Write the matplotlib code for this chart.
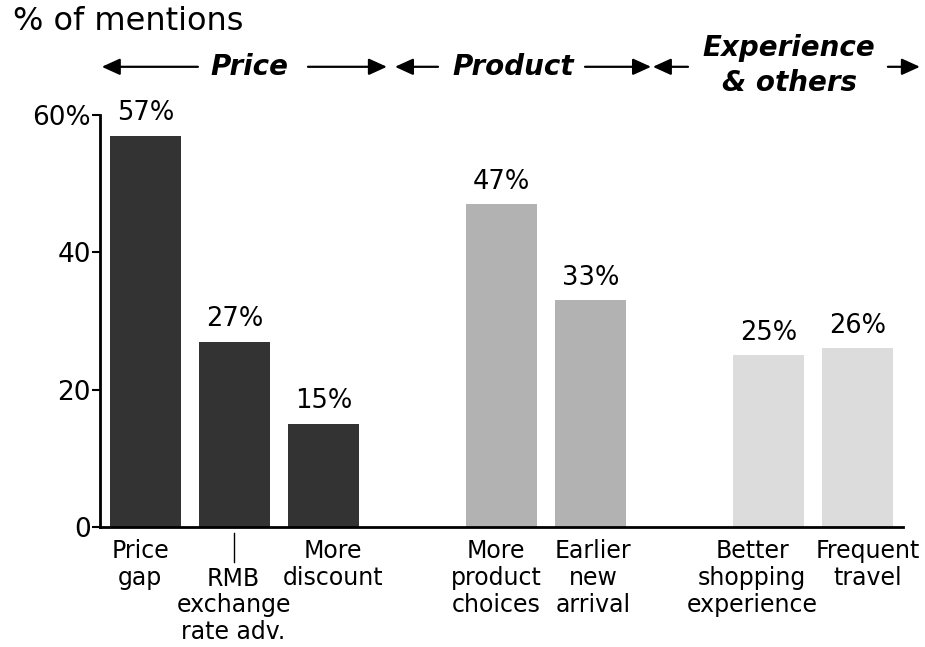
import matplotlib
matplotlib.use("Agg")
import matplotlib.pyplot as plt
from matplotlib.lines import Line2D

plt.rcParams['font.family'] = ['DejaVu Sans']

# Data
categories = ["Price\ngap", "RMB\nexchange\nrate adv.", "More\ndiscount",
              "More\nproduct\nchoices", "Earlier\nnew\narrival",
              "Better\nshopping\nexperience", "Frequent\ntravel"]
values = [57, 27, 15, 47, 33, 25, 26]
slots = [0, 1, 2, 4, 5, 7, 8]
groups = ["Price", "Price", "Price", "Product", "Product", "Experience", "Experience"]
group_colors = {"Price": "#333333", "Product": "#b2b2b2", "Experience": "#dcdcdc"}
yticks = [0, 20, 40, 60]
ytick_labels = ["0", "20", "40", "60%"]

fig = plt.figure(figsize=(9.25, 6.47), dpi=100)
ax = fig.add_axes([100/925, 120/647, 803/925, 412/647])

colors = [group_colors[g] for g in groups]
ax.bar(slots, values, width=0.8, color=colors, zorder=2)
for x, v in zip(slots, values):
    ax.text(x, v + 1.4, f"{v}%", ha="center", va="bottom", fontsize=18.5)

ax.set_xlim(-0.51, 8.51)
ax.set_ylim(0, 60)
ax.set_yticks(yticks)
ax.set_yticklabels(ytick_labels, fontsize=19)
ax.tick_params(axis="y", direction="out", length=5.5, width=1.5, pad=1)
ax.set_xticks([])
for s in ["top", "right"]:
    ax.spines[s].set_visible(False)
ax.spines["left"].set_linewidth(2)
ax.spines["bottom"].set_linewidth(2)

# category labels under the bars
label_shift = [-0.06, -0.01, 0.107, -0.06, 0.03, -0.185, 0.118]
label_drop = [0, 1, 0, 0, 0, 0, 0]
trans = ax.get_xaxis_transform()
for x, lab, dx, drop in zip(slots, categories, label_shift, label_drop):
    ax.text(x + dx, -0.03 - drop * 0.066, lab, ha="center", va="top",
            fontsize=17, linespacing=1.15, transform=trans, clip_on=False)
ax.add_line(Line2D([1, 1], [-0.015, -0.085], transform=trans, color="black",
                   lw=1, clip_on=False))

# group headers with arrows
hy = 1.117
def arrow(x_tail, x_head):
    ax.annotate("", xy=(x_head, hy), xytext=(x_tail, hy), xycoords=trans,
                textcoords=trans,
                arrowprops=dict(arrowstyle="-|>,head_length=1.1,head_width=0.5",
                                color="black", lw=1.6, shrinkA=0, shrinkB=0),
                annotation_clip=False)

hdr = dict(fontsize=20, fontweight="bold", fontstyle="italic", ha="center",
           va="center", transform=trans, clip_on=False)
ax.text(1.174, hy, "Price", **hdr)
arrow(0.59, -0.49)
arrow(1.826, 2.713)
ax.text(4.135, hy, "Product", **hdr)
arrow(3.287, 2.803)
arrow(4.938, 5.68)
ax.text(7.23, hy + 0.002, "Experience\n& others", linespacing=1.32, **hdr)
arrow(6.095, 5.70)
arrow(8.34, 8.70)

fig.text(13/925, 1 - 22/647, "% of mentions", fontsize=23, ha="left", va="center")

fig.savefig("out.png", dpi=100)
